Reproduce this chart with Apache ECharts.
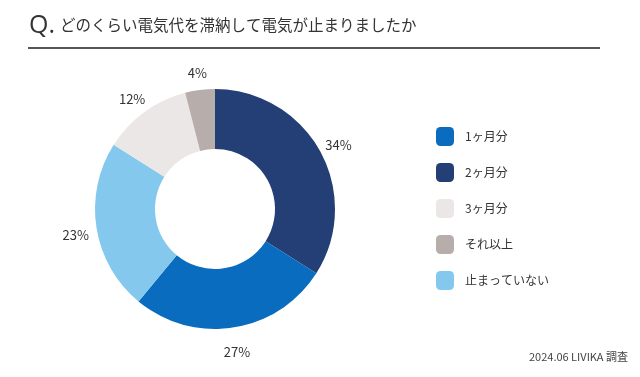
<!DOCTYPE html>
<html>
<head>
<meta charset="utf-8">
<style>
  html, body { margin: 0; padding: 0; background: #fff; }
  #chartBox { width: 640px; height: 377px; }
</style>
<script src="https://cdn.jsdelivr.net/npm/echarts@6/dist/echarts.min.js"></script>
</head>
<body>
<div id="chartBox"></div>
<script>
// 凡例の並び順
var legendNames = ["1ヶ月分", "2ヶ月分", "3ヶ月分", "それ以上", "止まっていない"];
var legendColors = ["#096cbe", "#243f76", "#ebe7e6", "#b7aeab", "#84c8ee"];

// 円グラフの描画順（12時から時計回り）
var sliceNames = ["2ヶ月分", "1ヶ月分", "止まっていない", "3ヶ月分", "それ以上"];
var sliceValues = [34, 27, 23, 12, 4];

var FONT = "'Noto Sans CJK JP', 'Noto Sans', sans-serif";

function colorOf(name) {
  return legendColors[legendNames.indexOf(name)];
}

var pieData = [];
var labelData = [];
for (var i = 0; i < sliceNames.length; i++) {
  pieData.push({
    name: sliceNames[i],
    value: sliceValues[i],
    itemStyle: { color: colorOf(sliceNames[i]) }
  });
  labelData.push({
    name: sliceNames[i],
    value: sliceValues[i],
    itemStyle: { color: "rgba(0,0,0,0)" }
  });
}

var chart = echarts.init(document.getElementById("chartBox"));

var option = {
  animation: false,
  title: {
    left: 29,
    top: 13,
    padding: 0,
    text: "{q|Q.}{t|どのくらい電気代を滞納して電気が止まりましたか}",
    textStyle: {
      fontWeight: "normal",
      rich: {
        q: { fontFamily: "'Open Sans', " + FONT, fontSize: 25, color: "#333", fontWeight: "normal", padding: [0, 5, 0, 0] },
        t: { fontFamily: FONT, fontSize: 15.5, color: "#333", fontWeight: "normal" }
      }
    }
  },
  legend: {
    orient: "vertical",
    left: 436,
    top: 127,
    padding: 0,
    icon: "roundRect",
    itemWidth: 18,
    itemHeight: 19,
    itemGap: 17,
    selectedMode: false,
    data: legendNames.map(function (n) {
      return { name: n, itemStyle: { color: colorOf(n) } };
    }),
    textStyle: { fontFamily: FONT, fontSize: 12, color: "#333", padding: [0, 0, 0, 6] }
  },
  graphic: [
    {
      type: "line",
      shape: { x1: 28, y1: 48, x2: 600, y2: 48 },
      style: { stroke: "#555", lineWidth: 2 }
    },
    {
      type: "text",
      right: 12,
      top: 351,
      style: { text: "2024.06 LIVIKA 調査", font: "11px " + FONT, fill: "#444" }
    }
  ],
  series: [
    {
      name: "main",
      type: "pie",
      center: [215, 209],
      radius: [60, 120],
      startAngle: 90,
      silent: true,
      label: { show: false },
      labelLine: { show: false },
      data: pieData
    },
    {
      // ラベル用の透明なリング
      name: "labels",
      type: "pie",
      center: [215, 213],
      radius: [120, 156],
      startAngle: 90,
      silent: true,
      label: {
        show: true,
        position: "inside",
        formatter: "{c}%",
        fontFamily: FONT,
        fontSize: 13,
        color: "#333"
      },
      labelLine: { show: false },
      data: labelData
    }
  ]
};

chart.setOption(option);
</script>
</body>
</html>
